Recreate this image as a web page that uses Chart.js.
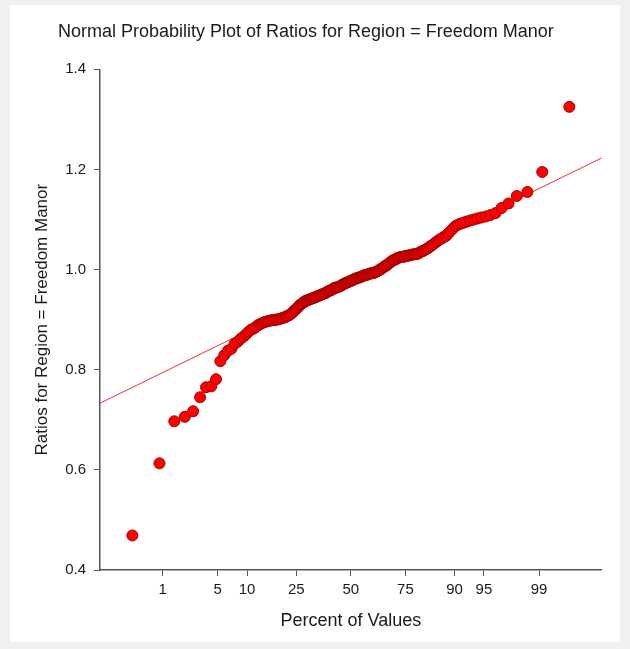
<!DOCTYPE html>
<html>
<head>
<meta charset="utf-8">
<title>Normal Probability Plot</title>
<script src="https://cdn.jsdelivr.net/npm/chart.js@4.4.1/dist/chart.umd.min.js"></script>
<style>
    body { margin: 0; background: #f0f0f0; }
    #panel {
        position: absolute; left: 10px; top: 5px;
        width: 610px; height: 637px; background: #ffffff;
    }
    #plot { display: block; }
</style>
</head>
<body>
<div id="panel"><canvas id="plot" width="610" height="637"></canvas></div>
<script>
// -----------------------------------------------------------------------------
// 1. DONNEES
// -----------------------------------------------------------------------------

// sorted ratios (n = 180)
const ratios = [
    0.469, 0.613, 0.697, 0.706, 0.717, 0.745, 0.765, 0.767, 0.781, 0.817,
    0.829, 0.838, 0.842, 0.852, 0.856, 0.862, 0.866, 0.871, 0.876, 0.880,
    0.882, 0.885, 0.889, 0.891, 0.893, 0.895, 0.896, 0.897, 0.898, 0.899,
    0.899, 0.900, 0.900, 0.901, 0.902, 0.903, 0.904, 0.905, 0.907, 0.908,
    0.910, 0.912, 0.915, 0.918, 0.920, 0.923, 0.926, 0.929, 0.931, 0.933,
    0.935, 0.937, 0.938, 0.939, 0.940, 0.941, 0.942, 0.943, 0.944, 0.945,
    0.946, 0.947, 0.948, 0.949, 0.950, 0.951, 0.952, 0.953, 0.954, 0.956,
    0.957, 0.958, 0.959, 0.960, 0.962, 0.963, 0.964, 0.964, 0.965, 0.966,
    0.967, 0.968, 0.970, 0.971, 0.972, 0.973, 0.974, 0.975, 0.976, 0.977,
    0.978, 0.979, 0.980, 0.981, 0.982, 0.983, 0.984, 0.984, 0.985, 0.986,
    0.987, 0.988, 0.989, 0.989, 0.990, 0.991, 0.992, 0.992, 0.993, 0.993,
    0.994, 0.995, 0.996, 0.997, 0.999, 1.000, 1.002, 1.003, 1.005, 1.007,
    1.008, 1.010, 1.012, 1.014, 1.016, 1.018, 1.019, 1.020, 1.022, 1.023,
    1.024, 1.025, 1.025, 1.026, 1.026, 1.027, 1.028, 1.028, 1.029, 1.030,
    1.030, 1.031, 1.031, 1.032, 1.034, 1.036, 1.037, 1.039, 1.041, 1.043,
    1.046, 1.048, 1.051, 1.054, 1.057, 1.060, 1.062, 1.065, 1.067, 1.072,
    1.077, 1.082, 1.087, 1.090, 1.092, 1.094, 1.096, 1.098, 1.100, 1.102,
    1.104, 1.106, 1.109, 1.113, 1.123, 1.132, 1.147, 1.155, 1.195, 1.325
];

// reference line (mean + sd * z)
const fitMean = 0.978;
const fitSd = 0.079;

// x axis: percent labels and their normal scores
const percentLabels = ['1', '5', '10', '25', '50', '75', '90', '95', '99'];
const percentZ = [-2.326, -1.645, -1.282, -0.674, 0, 0.674, 1.282, 1.645, 2.326];

const yTicks = [0.4, 0.6, 0.8, 1.0, 1.2, 1.4];

// -----------------------------------------------------------------------------
// 2. SCORES NORMAUX (position de Blom)
// -----------------------------------------------------------------------------

function normInv(p) {
    // Acklam
    const a = [-39.69683028665376, 220.9460984245205, -275.9285104469687, 138.3577518672690, -30.66479806614716, 2.506628277459239];
    const b = [-54.47609879822406, 161.5858368580409, -155.6989798598866, 66.80131188771972, -13.28068155288572];
    const c = [-0.007784894002430293, -0.3223964580411365, -2.400758277161838, -2.549732539343734, 4.374664141464968, 2.938163982698783];
    const d = [0.007784695709041462, 0.3224671290700398, 2.445134137142996, 3.754408661907416];
    const pl = 0.02425;
    let q, r;
    if (p < pl) {
        q = Math.sqrt(-2 * Math.log(p));
        return (((((c[0]*q+c[1])*q+c[2])*q+c[3])*q+c[4])*q+c[5]) / ((((d[0]*q+d[1])*q+d[2])*q+d[3])*q+1);
    }
    if (p > 1 - pl) {
        q = Math.sqrt(-2 * Math.log(1 - p));
        return -(((((c[0]*q+c[1])*q+c[2])*q+c[3])*q+c[4])*q+c[5]) / ((((d[0]*q+d[1])*q+d[2])*q+d[3])*q+1);
    }
    q = p - 0.5;
    r = q * q;
    return (((((a[0]*r+a[1])*r+a[2])*r+a[3])*r+a[4])*r+a[5])*q / (((((b[0]*r+b[1])*r+b[2])*r+b[3])*r+b[4])*r+1);
}

const n = ratios.length;
const points = ratios.map((v, i) => ({ x: normInv((i + 1 - 0.375) / (n + 0.25)), y: v }));
const fitLine = [-3.1, 3.1].map(z => ({ x: z, y: fitMean + fitSd * z }));

// -----------------------------------------------------------------------------
// 3. GRAPHIQUE
// -----------------------------------------------------------------------------

const FONT = 'Arial, "Liberation Sans", sans-serif';
const AXIS_COLOR = '#555555';
const TEXT_COLOR = '#1a1a1a';

new Chart(document.getElementById('plot'), {
    type: 'scatter',
    data: {
        datasets: [
            {
                data: points,
                pointRadius: 5.5,
                pointBackgroundColor: '#ff0000',
                pointBorderColor: '#a00000',
                pointBorderWidth: 1
            },
            {
                type: 'line',
                data: fitLine,
                borderColor: '#ff2a2a',
                borderWidth: 1,
                pointRadius: 0,
                fill: false
            }
        ]
    },
    options: {
        responsive: false,
        animation: false,
        layout: { padding: { left: 0, top: 0, right: 18.3, bottom: 10 } },
        plugins: {
            legend: { display: false },
            tooltip: { enabled: false },
            title: {
                display: true,
                text: 'Normal Probability Plot of Ratios for Region = Freedom Manor',
                color: TEXT_COLOR,
                font: { family: FONT, size: 18, weight: 'normal' },
                padding: { top: 16.2, bottom: 26.5 }
            }
        },
        scales: {
            x: {
                type: 'linear',
                min: -3.1,
                max: 3.1,
                afterBuildTicks: scale => { scale.ticks = percentZ.map(v => ({ value: v })); },
                afterFit: scale => { scale.height = 62; },
                ticks: {
                    color: TEXT_COLOR,
                    font: { family: FONT, size: 15 },
                    padding: 5,
                    maxRotation: 0,
                    callback: (value, index) => percentLabels[index]
                },
                grid: { drawOnChartArea: false, color: AXIS_COLOR, tickLength: 6 },
                border: { color: AXIS_COLOR, width: 1.5 },
                title: {
                    display: true,
                    text: 'Percent of Values',
                    color: TEXT_COLOR,
                    font: { family: FONT, size: 18 },
                    padding: { top: 0, bottom: 0.2 }
                }
            },
            y: {
                min: 0.4,
                max: 1.4,
                afterBuildTicks: scale => { scale.ticks = yTicks.map(v => ({ value: v })); },
                afterFit: scale => { scale.width = 90; },
                ticks: {
                    color: TEXT_COLOR,
                    font: { family: FONT, size: 15 },
                    padding: 8,
                    callback: value => value.toFixed(1)
                },
                grid: { drawOnChartArea: false, color: AXIS_COLOR, tickLength: 6 },
                border: { color: AXIS_COLOR, width: 1.5 },
                title: {
                    display: true,
                    text: 'Ratios for Region = Freedom Manor',
                    color: TEXT_COLOR,
                    font: { family: FONT, size: 17 },
                    padding: { top: 21.8, bottom: 0 }
                }
            }
        }
    }
});
</script>
</body>
</html>
